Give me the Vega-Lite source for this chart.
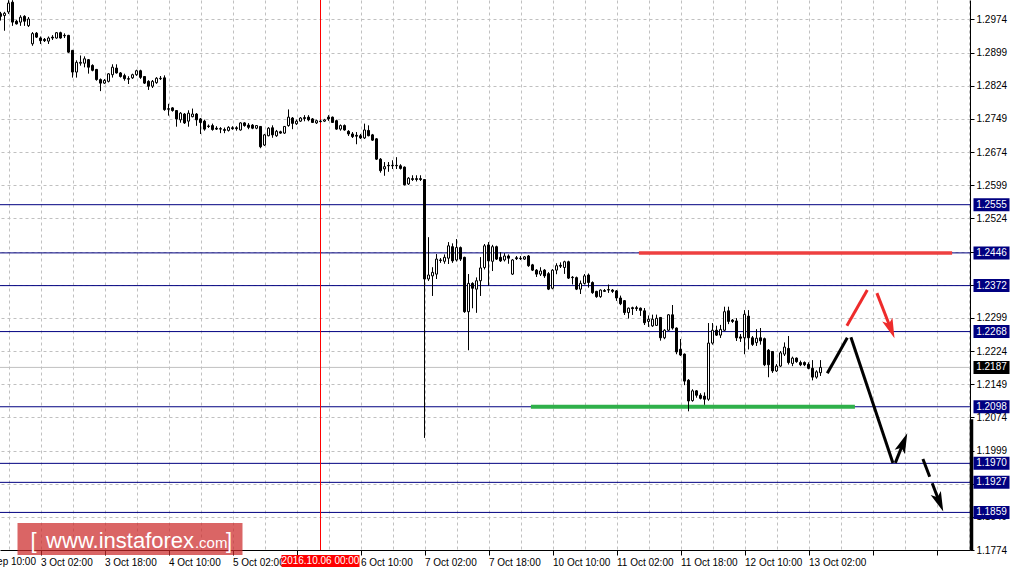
{
"$schema":"https://vega.github.io/schema/vega-lite/v6.json",
"width":970,"height":550,
"autosize":{"type":"none"},
"padding":{"left":0,"top":0,"right":42,"bottom":23},
"background":"#ffffff",
"config":{"view":{"stroke":null},"font":"Liberation Sans","axis":{"title":null}},
"datasets":{
"candles":[
{"i":-10,"o":1.2987,"h":1.2991,"l":1.2972,"c":1.2981},
{"i":-9,"o":1.2983,"h":1.2991,"l":1.2949,"c":1.2988},
{"i":-8,"o":1.2991,"h":1.3017,"l":1.2987,"c":1.3011},
{"i":-7,"o":1.3013,"h":1.3017,"l":1.2960,"c":1.2968},
{"i":-6,"o":1.2970,"h":1.2973,"l":1.2963,"c":1.2964},
{"i":-5,"o":1.2968,"h":1.2983,"l":1.2960,"c":1.2979},
{"i":-4,"o":1.2981,"h":1.2983,"l":1.2960,"c":1.2970},
{"i":-3,"o":1.2960,"h":1.2979,"l":1.2957,"c":1.2975},
{"i":-2,"o":1.2919,"h":1.2945,"l":1.2915,"c":1.2942},
{"i":-1,"o":1.2943,"h":1.2945,"l":1.2932,"c":1.2934},
{"i":0,"o":1.2932,"h":1.2935,"l":1.2919,"c":1.2926},
{"i":1,"o":1.2929,"h":1.2932,"l":1.2923,"c":1.2926},
{"i":2,"o":1.2925,"h":1.2935,"l":1.2919,"c":1.2932},
{"i":3,"o":1.2934,"h":1.2938,"l":1.2928,"c":1.2932},
{"i":4,"o":1.2932,"h":1.2945,"l":1.2931,"c":1.2944},
{"i":5,"o":1.2944,"h":1.2946,"l":1.2931,"c":1.2932},
{"i":6,"o":1.2938,"h":1.2942,"l":1.2932,"c":1.2937},
{"i":7,"o":1.2938,"h":1.2939,"l":1.2899,"c":1.2900},
{"i":8,"o":1.2904,"h":1.2905,"l":1.2843,"c":1.2855},
{"i":9,"o":1.2855,"h":1.2881,"l":1.2843,"c":1.2877},
{"i":10,"o":1.2875,"h":1.2892,"l":1.2870,"c":1.2877},
{"i":11,"o":1.2875,"h":1.2890,"l":1.2866,"c":1.2885},
{"i":12,"o":1.2883,"h":1.2884,"l":1.2852,"c":1.2866},
{"i":13,"o":1.2870,"h":1.2872,"l":1.2857,"c":1.2859},
{"i":14,"o":1.2861,"h":1.2862,"l":1.2836,"c":1.2838},
{"i":15,"o":1.2838,"h":1.2840,"l":1.2812,"c":1.2830},
{"i":16,"o":1.2830,"h":1.2839,"l":1.2828,"c":1.2836},
{"i":17,"o":1.2834,"h":1.2852,"l":1.2832,"c":1.2851},
{"i":18,"o":1.2849,"h":1.2872,"l":1.2843,"c":1.2866},
{"i":19,"o":1.2864,"h":1.2872,"l":1.2852,"c":1.2853},
{"i":20,"o":1.2853,"h":1.2855,"l":1.2843,"c":1.2845},
{"i":21,"o":1.2847,"h":1.2851,"l":1.2836,"c":1.2840},
{"i":22,"o":1.2840,"h":1.2845,"l":1.2828,"c":1.2839},
{"i":23,"o":1.2842,"h":1.2851,"l":1.2840,"c":1.2849},
{"i":24,"o":1.2849,"h":1.2860,"l":1.2847,"c":1.2858},
{"i":25,"o":1.2858,"h":1.2860,"l":1.2840,"c":1.2843},
{"i":26,"o":1.2845,"h":1.2846,"l":1.2828,"c":1.2830},
{"i":27,"o":1.2834,"h":1.2836,"l":1.2815,"c":1.2823},
{"i":28,"o":1.2823,"h":1.2837,"l":1.2819,"c":1.2834},
{"i":29,"o":1.2831,"h":1.2843,"l":1.2829,"c":1.2841},
{"i":30,"o":1.2840,"h":1.2846,"l":1.2837,"c":1.2841},
{"i":31,"o":1.2842,"h":1.2847,"l":1.2768,"c":1.2770},
{"i":32,"o":1.2772,"h":1.2783,"l":1.2757,"c":1.2771},
{"i":33,"o":1.2774,"h":1.2775,"l":1.2766,"c":1.2768},
{"i":34,"o":1.2768,"h":1.2769,"l":1.2732,"c":1.2749},
{"i":35,"o":1.2747,"h":1.2764,"l":1.2741,"c":1.2762},
{"i":36,"o":1.2760,"h":1.2762,"l":1.2738,"c":1.2740},
{"i":37,"o":1.2744,"h":1.2768,"l":1.2732,"c":1.2762},
{"i":38,"o":1.2754,"h":1.2772,"l":1.2753,"c":1.2760},
{"i":39,"o":1.2760,"h":1.2762,"l":1.2734,"c":1.2747},
{"i":40,"o":1.2749,"h":1.2751,"l":1.2715,"c":1.2741},
{"i":41,"o":1.2744,"h":1.2747,"l":1.2723,"c":1.2726},
{"i":42,"o":1.2733,"h":1.2736,"l":1.2729,"c":1.2732},
{"i":43,"o":1.2734,"h":1.2738,"l":1.2723,"c":1.2725},
{"i":44,"o":1.2728,"h":1.2732,"l":1.2724,"c":1.2726},
{"i":45,"o":1.2727,"h":1.2730,"l":1.2717,"c":1.2726},
{"i":46,"o":1.2725,"h":1.2729,"l":1.2717,"c":1.2723},
{"i":47,"o":1.2723,"h":1.2732,"l":1.2721,"c":1.2730},
{"i":48,"o":1.2729,"h":1.2732,"l":1.2725,"c":1.2727},
{"i":49,"o":1.2729,"h":1.2732,"l":1.2723,"c":1.2727},
{"i":50,"o":1.2724,"h":1.2741,"l":1.2723,"c":1.2740},
{"i":51,"o":1.2740,"h":1.2741,"l":1.2732,"c":1.2734},
{"i":52,"o":1.2735,"h":1.2739,"l":1.2726,"c":1.2730},
{"i":53,"o":1.2735,"h":1.2737,"l":1.2726,"c":1.2728},
{"i":54,"o":1.2728,"h":1.2735,"l":1.2726,"c":1.2734},
{"i":55,"o":1.2732,"h":1.2733,"l":1.2683,"c":1.2686},
{"i":56,"o":1.2690,"h":1.2715,"l":1.2688,"c":1.2713},
{"i":57,"o":1.2711,"h":1.2730,"l":1.2710,"c":1.2728},
{"i":58,"o":1.2729,"h":1.2734,"l":1.2707,"c":1.2713},
{"i":59,"o":1.2711,"h":1.2724,"l":1.2709,"c":1.2721},
{"i":60,"o":1.2720,"h":1.2722,"l":1.2716,"c":1.2717},
{"i":61,"o":1.2717,"h":1.2733,"l":1.2715,"c":1.2732},
{"i":62,"o":1.2734,"h":1.2770,"l":1.2732,"c":1.2753},
{"i":63,"o":1.2751,"h":1.2753,"l":1.2726,"c":1.2739},
{"i":64,"o":1.2738,"h":1.2747,"l":1.2736,"c":1.2744},
{"i":65,"o":1.2744,"h":1.2753,"l":1.2742,"c":1.2751},
{"i":66,"o":1.2752,"h":1.2757,"l":1.2744,"c":1.2750},
{"i":67,"o":1.2753,"h":1.2757,"l":1.2744,"c":1.2747},
{"i":68,"o":1.2749,"h":1.2751,"l":1.2740,"c":1.2741},
{"i":69,"o":1.2740,"h":1.2747,"l":1.2738,"c":1.2745},
{"i":70,"o":1.2744,"h":1.2747,"l":1.2741,"c":1.2743},
{"i":71,"o":1.2744,"h":1.2749,"l":1.2742,"c":1.2747},
{"i":72,"o":1.2753,"h":1.2757,"l":1.2745,"c":1.2749},
{"i":73,"o":1.2753,"h":1.2754,"l":1.2740,"c":1.2741},
{"i":74,"o":1.2745,"h":1.2747,"l":1.2725,"c":1.2726},
{"i":75,"o":1.2726,"h":1.2736,"l":1.2723,"c":1.2734},
{"i":76,"o":1.2734,"h":1.2736,"l":1.2723,"c":1.2724},
{"i":77,"o":1.2721,"h":1.2723,"l":1.2711,"c":1.2715},
{"i":78,"o":1.2715,"h":1.2719,"l":1.2706,"c":1.2709},
{"i":79,"o":1.2712,"h":1.2719,"l":1.2692,"c":1.2710},
{"i":80,"o":1.2711,"h":1.2715,"l":1.2704,"c":1.2706},
{"i":81,"o":1.2706,"h":1.2738,"l":1.2704,"c":1.2724},
{"i":82,"o":1.2723,"h":1.2734,"l":1.2710,"c":1.2711},
{"i":83,"o":1.2713,"h":1.2715,"l":1.2700,"c":1.2701},
{"i":84,"o":1.2704,"h":1.2705,"l":1.2657,"c":1.2658},
{"i":85,"o":1.2658,"h":1.2660,"l":1.2628,"c":1.2632},
{"i":86,"o":1.2636,"h":1.2651,"l":1.2621,"c":1.2641},
{"i":87,"o":1.2644,"h":1.2651,"l":1.2630,"c":1.2643},
{"i":88,"o":1.2644,"h":1.2655,"l":1.2636,"c":1.2643},
{"i":89,"o":1.2644,"h":1.2662,"l":1.2636,"c":1.2643},
{"i":90,"o":1.2643,"h":1.2646,"l":1.2635,"c":1.2637},
{"i":91,"o":1.2640,"h":1.2641,"l":1.2599,"c":1.2600},
{"i":92,"o":1.2602,"h":1.2617,"l":1.2600,"c":1.2615},
{"i":93,"o":1.2614,"h":1.2621,"l":1.2609,"c":1.2612},
{"i":94,"o":1.2614,"h":1.2621,"l":1.2608,"c":1.2612},
{"i":95,"o":1.2614,"h":1.2621,"l":1.2609,"c":1.2612},
{"i":96,"o":1.2612,"h":1.2613,"l":1.2028,"c":1.2387},
{"i":97,"o":1.2387,"h":1.2481,"l":1.2383,"c":1.2396},
{"i":98,"o":1.2394,"h":1.2413,"l":1.2349,"c":1.2402},
{"i":99,"o":1.2398,"h":1.2443,"l":1.2387,"c":1.2432},
{"i":100,"o":1.2430,"h":1.2434,"l":1.2424,"c":1.2429},
{"i":101,"o":1.2427,"h":1.2442,"l":1.2422,"c":1.2436},
{"i":102,"o":1.2434,"h":1.2470,"l":1.2421,"c":1.2462},
{"i":103,"o":1.2460,"h":1.2467,"l":1.2424,"c":1.2428},
{"i":104,"o":1.2430,"h":1.2477,"l":1.2427,"c":1.2458},
{"i":105,"o":1.2458,"h":1.2460,"l":1.2428,"c":1.2432},
{"i":106,"o":1.2436,"h":1.2437,"l":1.2311,"c":1.2313},
{"i":107,"o":1.2313,"h":1.2398,"l":1.2226,"c":1.2377},
{"i":108,"o":1.2377,"h":1.2379,"l":1.2321,"c":1.2366},
{"i":109,"o":1.2364,"h":1.2390,"l":1.2311,"c":1.2383},
{"i":110,"o":1.2383,"h":1.2436,"l":1.2349,"c":1.2412},
{"i":111,"o":1.2413,"h":1.2466,"l":1.2409,"c":1.2462},
{"i":112,"o":1.2464,"h":1.2470,"l":1.2372,"c":1.2428},
{"i":113,"o":1.2427,"h":1.2464,"l":1.2405,"c":1.2460},
{"i":114,"o":1.2460,"h":1.2462,"l":1.2430,"c":1.2432},
{"i":115,"o":1.2436,"h":1.2447,"l":1.2426,"c":1.2428},
{"i":116,"o":1.2430,"h":1.2445,"l":1.2427,"c":1.2439},
{"i":117,"o":1.2439,"h":1.2442,"l":1.2422,"c":1.2434},
{"i":118,"o":1.2398,"h":1.2432,"l":1.2396,"c":1.2430},
{"i":119,"o":1.2435,"h":1.2439,"l":1.2430,"c":1.2433},
{"i":120,"o":1.2434,"h":1.2439,"l":1.2430,"c":1.2433},
{"i":121,"o":1.2432,"h":1.2439,"l":1.2430,"c":1.2437},
{"i":122,"o":1.2439,"h":1.2441,"l":1.2415,"c":1.2417},
{"i":123,"o":1.2419,"h":1.2421,"l":1.2405,"c":1.2407},
{"i":124,"o":1.2407,"h":1.2409,"l":1.2392,"c":1.2398},
{"i":125,"o":1.2398,"h":1.2413,"l":1.2394,"c":1.2405},
{"i":126,"o":1.2407,"h":1.2409,"l":1.2390,"c":1.2394},
{"i":127,"o":1.2399,"h":1.2402,"l":1.2362,"c":1.2364},
{"i":128,"o":1.2366,"h":1.2409,"l":1.2364,"c":1.2407},
{"i":129,"o":1.2407,"h":1.2422,"l":1.2398,"c":1.2417},
{"i":130,"o":1.2418,"h":1.2424,"l":1.2412,"c":1.2416},
{"i":131,"o":1.2413,"h":1.2428,"l":1.2399,"c":1.2426},
{"i":132,"o":1.2426,"h":1.2428,"l":1.2387,"c":1.2389},
{"i":133,"o":1.2391,"h":1.2393,"l":1.2375,"c":1.2390},
{"i":134,"o":1.2390,"h":1.2392,"l":1.2362,"c":1.2364},
{"i":135,"o":1.2364,"h":1.2383,"l":1.2353,"c":1.2377},
{"i":136,"o":1.2377,"h":1.2398,"l":1.2375,"c":1.2394},
{"i":137,"o":1.2396,"h":1.2399,"l":1.2368,"c":1.2379},
{"i":138,"o":1.2379,"h":1.2381,"l":1.2354,"c":1.2356},
{"i":139,"o":1.2359,"h":1.2360,"l":1.2345,"c":1.2347},
{"i":140,"o":1.2347,"h":1.2363,"l":1.2345,"c":1.2362},
{"i":141,"o":1.2361,"h":1.2364,"l":1.2358,"c":1.2359},
{"i":142,"o":1.2363,"h":1.2374,"l":1.2356,"c":1.2362},
{"i":143,"o":1.2362,"h":1.2364,"l":1.2356,"c":1.2359},
{"i":144,"o":1.2360,"h":1.2362,"l":1.2338,"c":1.2344},
{"i":145,"o":1.2344,"h":1.2349,"l":1.2328,"c":1.2331},
{"i":146,"o":1.2338,"h":1.2339,"l":1.2306,"c":1.2311},
{"i":147,"o":1.2311,"h":1.2322,"l":1.2298,"c":1.2321},
{"i":148,"o":1.2322,"h":1.2324,"l":1.2306,"c":1.2320},
{"i":149,"o":1.2322,"h":1.2326,"l":1.2315,"c":1.2320},
{"i":150,"o":1.2321,"h":1.2322,"l":1.2304,"c":1.2316},
{"i":151,"o":1.2315,"h":1.2321,"l":1.2283,"c":1.2288},
{"i":152,"o":1.2291,"h":1.2304,"l":1.2279,"c":1.2296},
{"i":153,"o":1.2281,"h":1.2306,"l":1.2279,"c":1.2296},
{"i":154,"o":1.2282,"h":1.2306,"l":1.2281,"c":1.2298},
{"i":155,"o":1.2300,"h":1.2301,"l":1.2248,"c":1.2254},
{"i":156,"o":1.2254,"h":1.2273,"l":1.2251,"c":1.2271},
{"i":157,"o":1.2271,"h":1.2307,"l":1.2270,"c":1.2306},
{"i":158,"o":1.2306,"h":1.2328,"l":1.2273,"c":1.2276},
{"i":159,"o":1.2276,"h":1.2277,"l":1.2217,"c":1.2222},
{"i":160,"o":1.2228,"h":1.2251,"l":1.2213,"c":1.2215},
{"i":161,"o":1.2217,"h":1.2218,"l":1.2147,"c":1.2156},
{"i":162,"o":1.2158,"h":1.2160,"l":1.2088,"c":1.2111},
{"i":163,"o":1.2112,"h":1.2137,"l":1.2110,"c":1.2134},
{"i":164,"o":1.2134,"h":1.2135,"l":1.2119,"c":1.2124},
{"i":165,"o":1.2124,"h":1.2128,"l":1.2115,"c":1.2117},
{"i":166,"o":1.2122,"h":1.2130,"l":1.2103,"c":1.2115},
{"i":167,"o":1.2115,"h":1.2287,"l":1.2112,"c":1.2242},
{"i":168,"o":1.2242,"h":1.2287,"l":1.2239,"c":1.2271},
{"i":169,"o":1.2271,"h":1.2281,"l":1.2258,"c":1.2260},
{"i":170,"o":1.2260,"h":1.2283,"l":1.2254,"c":1.2273},
{"i":171,"o":1.2271,"h":1.2324,"l":1.2270,"c":1.2313},
{"i":172,"o":1.2315,"h":1.2324,"l":1.2285,"c":1.2291},
{"i":173,"o":1.2294,"h":1.2296,"l":1.2288,"c":1.2291},
{"i":174,"o":1.2292,"h":1.2298,"l":1.2247,"c":1.2254},
{"i":175,"o":1.2256,"h":1.2262,"l":1.2245,"c":1.2253},
{"i":176,"o":1.2254,"h":1.2316,"l":1.2217,"c":1.2307},
{"i":177,"o":1.2303,"h":1.2316,"l":1.2228,"c":1.2254},
{"i":178,"o":1.2254,"h":1.2258,"l":1.2236,"c":1.2239},
{"i":179,"o":1.2243,"h":1.2273,"l":1.2236,"c":1.2253},
{"i":180,"o":1.2254,"h":1.2276,"l":1.2239,"c":1.2247},
{"i":181,"o":1.2252,"h":1.2254,"l":1.2190,"c":1.2193},
{"i":182,"o":1.2226,"h":1.2228,"l":1.2165,"c":1.2193},
{"i":183,"o":1.2223,"h":1.2224,"l":1.2175,"c":1.2179},
{"i":184,"o":1.2179,"h":1.2194,"l":1.2177,"c":1.2190},
{"i":185,"o":1.2190,"h":1.2224,"l":1.2188,"c":1.2220},
{"i":186,"o":1.2217,"h":1.2243,"l":1.2213,"c":1.2233},
{"i":187,"o":1.2230,"h":1.2258,"l":1.2194,"c":1.2198},
{"i":188,"o":1.2196,"h":1.2211,"l":1.2190,"c":1.2208},
{"i":189,"o":1.2208,"h":1.2209,"l":1.2198,"c":1.2200},
{"i":190,"o":1.2198,"h":1.2202,"l":1.2190,"c":1.2193},
{"i":191,"o":1.2198,"h":1.2200,"l":1.2190,"c":1.2193},
{"i":192,"o":1.2194,"h":1.2198,"l":1.2183,"c":1.2185},
{"i":193,"o":1.2185,"h":1.2203,"l":1.2158,"c":1.2165},
{"i":194,"o":1.2165,"h":1.2180,"l":1.2162,"c":1.2177},
{"i":195,"o":1.2175,"h":1.2203,"l":1.2168,"c":1.2187}
],
"levels":[{"p":1.2555},{"p":1.2446},{"p":1.2372},{"p":1.2268},{"p":1.2098},{"p":1.1970},{"p":1.1927},{"p":1.1859}],
"bid":[{"p":1.2187}],
"segSolid":[{"s":"a","i":196.7,"p":1.2174},{"s":"a","i":201.7,"p":1.2254},{"s":"b","i":202.6,"p":1.2255},{"s":"b","i":213.1,"p":1.1971},{"s":"c","i":213.7,"p":1.1971},{"s":"c","i":215.75,"p":1.2017}],
"segDash":[{"s":"d","i":220.6,"p":1.1980},{"s":"d","i":224.75,"p":1.1882}],
"segRed":[{"s":"e","i":201.6,"p":1.2281},{"s":"e","i":206.7,"p":1.2362},{"s":"f","i":209.1,"p":1.2355},{"s":"f","i":212.6,"p":1.2274}]
},
"layer":[
{"data":{"name":"candles"},"mark":{"type":"rule","color":"#000000","strokeWidth":1},
 "encoding":{
  "x":{"field":"i","type":"quantitative","scale":{"domain":[-10.125,232.375],"nice":false,"zero":false,"padding":0},
   "axis":{"orient":"bottom","title":null,"tickCount":200,
    "values":[-8,0,8,16,24,32,40,48,56,64,72,80,88,96,104,112,120,128,136,144,152,160,168,176,184,192,200,208,216,224,232],
    "grid":true,"gridColor":"#c0c0c0","gridDash":[3,3],"gridWidth":1,
    "domain":true,"domainColor":"#000000","domainWidth":1,
    "ticks":true,"tickColor":"#000000","tickSize":5,"tickOpacity":{"condition":{"test":"datum.value % 16 !== 0","value":0},"value":1},
    "labelExpr":"(datum.value % 16 === 0 && datum.value <= 192) ? ['30 Sep 10:00','3 Oct 02:00','3 Oct 18:00','4 Oct 10:00','5 Oct 02:00','','6 Oct 10:00','7 Oct 02:00','7 Oct 18:00','10 Oct 10:00','11 Oct 02:00','11 Oct 18:00','12 Oct 10:00','13 Oct 02:00'][(datum.value + 16) / 16] : ''",
    "labelAlign":"left","labelBaseline":"top","labelPadding":2,"labelFont":"Liberation Sans","labelFontSize":10,"labelColor":"#000000",
    "labelOverlap":false,"labelFlush":false,"labelBound":false}},
  "y":{"field":"l","type":"quantitative","scale":{"domain":[1.1774,1.3018],"nice":false,"zero":false},
   "axis":{"orient":"right","title":null,"tickCount":200,
    "values":[1.1774,1.1849,1.1924,1.1999,1.2074,1.2149,1.2224,1.2299,1.2374,1.2449,1.2524,1.2599,1.2674,1.2749,1.2824,1.2899,1.2974],
    "grid":true,"gridColor":"#c0c0c0","gridDash":[3,3],"gridWidth":1,
    "domain":true,"domainColor":"#000000","domainWidth":1,
    "ticks":true,"tickColor":"#000000","tickSize":4,
    "format":".4f","labelAlign":"left","labelBaseline":"middle","labelPadding":2,"labelFont":"Liberation Sans","labelFontSize":10,"labelColor":"#000000",
    "labelOverlap":false,"labelFlush":false,"labelBound":false}},
  "y2":{"field":"h"}}},
{"data":{"name":"levels"},"mark":{"type":"rule","color":"#000080","strokeWidth":1},
 "encoding":{"y":{"field":"p","type":"quantitative","scale":{"domain":[1.1774,1.3018],"nice":false,"zero":false}}}},
{"data":{"name":"bid"},"mark":{"type":"rule","color":"#c0c0c0","strokeWidth":1},
 "encoding":{"y":{"field":"p","type":"quantitative","scale":{"domain":[1.1774,1.3018],"nice":false,"zero":false}}}},
{"data":{"values":[{"i":70}]},"mark":{"type":"rule","color":"#ff0000","strokeWidth":1},
 "encoding":{"x":{"field":"i","type":"quantitative","scale":{"domain":[-10.125,232.375],"nice":false,"zero":false,"padding":0}}}},
{"data":{"values":[{"i":122.6,"i2":203.6,"p":1.2098}]},"mark":{"type":"rule","color":"#2fb04a","strokeWidth":4},
 "encoding":{"x":{"field":"i","type":"quantitative","scale":{"domain":[-10.125,232.375],"nice":false,"zero":false,"padding":0}},"x2":{"field":"i2"},
  "y":{"field":"p","type":"quantitative","scale":{"domain":[1.1774,1.3018],"nice":false,"zero":false}}}},
{"data":{"values":[{"i":149.6,"i2":227.9,"p":1.2446}]},"mark":{"type":"rule","color":"#ee4040","strokeWidth":3.5},
 "encoding":{"x":{"field":"i","type":"quantitative","scale":{"domain":[-10.125,232.375],"nice":false,"zero":false,"padding":0}},"x2":{"field":"i2"},
  "y":{"field":"p","type":"quantitative","scale":{"domain":[1.1774,1.3018],"nice":false,"zero":false}}}},
{"data":{"name":"candles"},"mark":{"type":"rule","color":"#000000","strokeWidth":1},
 "encoding":{
  "x":{"field":"i","type":"quantitative","scale":{"domain":[-10.125,232.375],"nice":false,"zero":false,"padding":0}},
  "y":{"field":"l","type":"quantitative","scale":{"domain":[1.1774,1.3018],"nice":false,"zero":false}},
  "y2":{"field":"h"}}},
{"data":{"name":"candles"},"mark":{"type":"bar","width":2,"stroke":"#000000","strokeWidth":1},
 "encoding":{
  "x":{"field":"i","type":"quantitative","scale":{"domain":[-10.125,232.375],"nice":false,"zero":false,"padding":0}},
  "y":{"field":"o","type":"quantitative","scale":{"domain":[1.1774,1.3018],"nice":false,"zero":false}},
  "y2":{"field":"c"},
  "fill":{"condition":{"test":"datum.c >= datum.o","value":"#ffffff"},"value":"#000000"}}},
{"data":{"name":"segSolid"},"mark":{"type":"line","color":"#000000","strokeWidth":3,"strokeCap":"butt"},
 "encoding":{
  "x":{"field":"i","type":"quantitative","scale":{"domain":[-10.125,232.375],"nice":false,"zero":false,"padding":0}},
  "y":{"field":"p","type":"quantitative","scale":{"domain":[1.1774,1.3018],"nice":false,"zero":false}},
  "detail":{"field":"s"}}},
{"data":{"name":"segDash"},"mark":{"type":"line","color":"#000000","strokeWidth":3,"strokeCap":"butt","strokeDash":[19,7]},
 "encoding":{
  "x":{"field":"i","type":"quantitative","scale":{"domain":[-10.125,232.375],"nice":false,"zero":false,"padding":0}},
  "y":{"field":"p","type":"quantitative","scale":{"domain":[1.1774,1.3018],"nice":false,"zero":false}},
  "detail":{"field":"s"}}},
{"data":{"name":"segRed"},"mark":{"type":"line","color":"#ee2b2b","strokeWidth":3,"strokeCap":"butt"},
 "encoding":{
  "x":{"field":"i","type":"quantitative","scale":{"domain":[-10.125,232.375],"nice":false,"zero":false,"padding":0}},
  "y":{"field":"p","type":"quantitative","scale":{"domain":[1.1774,1.3018],"nice":false,"zero":false}},
  "detail":{"field":"s"}}},
{"data":{"values":[{"i":215.75,"p":1.2017}]},"mark":{"type":"point","shape":"M0,-1L0.55,1L0,0.55L-0.55,1Z","size":400,"angle":22,"filled":true,"color":"#000000","opacity":1},
 "encoding":{
  "x":{"field":"i","type":"quantitative","scale":{"domain":[-10.125,232.375],"nice":false,"zero":false,"padding":0}},
  "y":{"field":"p","type":"quantitative","scale":{"domain":[1.1774,1.3018],"nice":false,"zero":false}}}},
{"data":{"values":[{"i":224.75,"p":1.1882}]},"mark":{"type":"point","shape":"M0,-1L0.55,1L0,0.55L-0.55,1Z","size":400,"angle":158,"filled":true,"color":"#000000","opacity":1},
 "encoding":{
  "x":{"field":"i","type":"quantitative","scale":{"domain":[-10.125,232.375],"nice":false,"zero":false,"padding":0}},
  "y":{"field":"p","type":"quantitative","scale":{"domain":[1.1774,1.3018],"nice":false,"zero":false}}}},
{"data":{"values":[{"i":212.6,"p":1.2274}]},"mark":{"type":"point","shape":"M0,-1L0.55,1L0,0.55L-0.55,1Z","size":400,"angle":159,"filled":true,"color":"#ee2b2b","opacity":1},
 "encoding":{
  "x":{"field":"i","type":"quantitative","scale":{"domain":[-10.125,232.375],"nice":false,"zero":false,"padding":0}},
  "y":{"field":"p","type":"quantitative","scale":{"domain":[1.1774,1.3018],"nice":false,"zero":false}}}},
{"data":{"values":[{"p1":1.2070,"p2":1.1774}]},"mark":{"type":"rule","color":"#000000","strokeWidth":3.5,"strokeCap":"butt"},
 "encoding":{
  "x":{"datum":232.75,"type":"quantitative","scale":{"domain":[-10.125,232.375],"nice":false,"zero":false,"padding":0}},
  "y":{"field":"p1","type":"quantitative","scale":{"domain":[1.1774,1.3018],"nice":false,"zero":false}},
  "y2":{"field":"p2"}}},
{"data":{"name":"levels"},"mark":{"type":"rule","color":"#000080","strokeWidth":13,"strokeCap":"butt"},
 "encoding":{
  "x":{"datum":233.25,"type":"quantitative","scale":{"domain":[-10.125,232.375],"nice":false,"zero":false,"padding":0}},
  "x2":{"datum":242.25},
  "y":{"field":"p","type":"quantitative","scale":{"domain":[1.1774,1.3018],"nice":false,"zero":false}}}},
{"data":{"name":"bid"},"mark":{"type":"rule","color":"#000000","strokeWidth":13,"strokeCap":"butt"},
 "encoding":{
  "x":{"datum":233.25,"type":"quantitative","scale":{"domain":[-10.125,232.375],"nice":false,"zero":false,"padding":0}},
  "x2":{"datum":242.25},
  "y":{"field":"p","type":"quantitative","scale":{"domain":[1.1774,1.3018],"nice":false,"zero":false}}}},
{"data":{"name":"levels"},"mark":{"type":"text","color":"#ffffff","font":"Liberation Sans","fontSize":10,"align":"center","baseline":"middle"},
 "encoding":{
  "x":{"datum":237.75,"type":"quantitative","scale":{"domain":[-10.125,232.375],"nice":false,"zero":false,"padding":0}},
  "y":{"field":"p","type":"quantitative","scale":{"domain":[1.1774,1.3018],"nice":false,"zero":false}},
  "text":{"field":"p","type":"quantitative","format":".4f"}}},
{"data":{"name":"bid"},"mark":{"type":"text","color":"#ffffff","font":"Liberation Sans","fontSize":10,"align":"center","baseline":"middle"},
 "encoding":{
  "x":{"datum":237.75,"type":"quantitative","scale":{"domain":[-10.125,232.375],"nice":false,"zero":false,"padding":0}},
  "y":{"field":"p","type":"quantitative","scale":{"domain":[1.1774,1.3018],"nice":false,"zero":false}},
  "text":{"field":"p","type":"quantitative","format":".4f"}}},
{"data":{"values":[{"i":-16,"p":1.17581,"t":"30 Sep 10:00"}]},"mark":{"type":"text","color":"#000000","font":"Liberation Sans","fontSize":10,"align":"left","baseline":"top"},
 "encoding":{
  "x":{"field":"i","type":"quantitative","scale":{"domain":[-10.125,232.375],"nice":false,"zero":false,"padding":0}},
  "y":{"field":"p","type":"quantitative","scale":{"domain":[1.1774,1.3018],"nice":false,"zero":false}},
  "text":{"field":"t"}}},
{"data":{"values":[{"i":60.25,"i2":79.75,"p":1.1749}]},"mark":{"type":"rule","color":"#ff0000","strokeWidth":12,"strokeCap":"butt"},
 "encoding":{
  "x":{"field":"i","type":"quantitative","scale":{"domain":[-10.125,232.375],"nice":false,"zero":false,"padding":0}},"x2":{"field":"i2"},
  "y":{"field":"p","type":"quantitative","scale":{"domain":[1.1774,1.3018],"nice":false,"zero":false}}}},
{"data":{"values":[{"i":70,"p":1.1749,"t":"2016.10.06 00:00"}]},"mark":{"type":"text","color":"#ffffff","font":"Liberation Sans","fontSize":10,"align":"center","baseline":"middle"},
 "encoding":{
  "x":{"field":"i","type":"quantitative","scale":{"domain":[-10.125,232.375],"nice":false,"zero":false,"padding":0}},
  "y":{"field":"p","type":"quantitative","scale":{"domain":[1.1774,1.3018],"nice":false,"zero":false}},
  "text":{"field":"t"}}},
{"data":{"values":[{"i":-5.75,"i2":50.5,"p":1.17988}]},"mark":{"type":"rule","color":"#cc2a2a","opacity":0.72,"strokeWidth":32,"strokeCap":"butt"},
 "encoding":{
  "x":{"field":"i","type":"quantitative","scale":{"domain":[-10.125,232.375],"nice":false,"zero":false,"padding":0}},"x2":{"field":"i2"},
  "y":{"field":"p","type":"quantitative","scale":{"domain":[1.1774,1.3018],"nice":false,"zero":false}}}},
{"data":{"values":[{"i":-2.5,"p":1.17943,"t":"["},{"i":46.4,"p":1.17943,"t":"]"}]},"mark":{"type":"text","color":"#ffffff","font":"Liberation Sans","fontSize":22,"align":"left","baseline":"middle"},
 "encoding":{
  "x":{"field":"i","type":"quantitative","scale":{"domain":[-10.125,232.375],"nice":false,"zero":false,"padding":0}},
  "y":{"field":"p","type":"quantitative","scale":{"domain":[1.1774,1.3018],"nice":false,"zero":false}},
  "text":{"field":"t"}}},
{"data":{"values":[{"i":1.4,"p":1.17785,"t":"www.instaforex"}]},"mark":{"type":"text","color":"#ffffff","font":"Liberation Sans","fontSize":22,"align":"left","baseline":"alphabetic"},
 "encoding":{
  "x":{"field":"i","type":"quantitative","scale":{"domain":[-10.125,232.375],"nice":false,"zero":false,"padding":0}},
  "y":{"field":"p","type":"quantitative","scale":{"domain":[1.1774,1.3018],"nice":false,"zero":false}},
  "text":{"field":"t"}}},
{"data":{"values":[{"i":38.6,"p":1.17785,"t":".com"}]},"mark":{"type":"text","color":"#ffffff","font":"Liberation Sans","fontSize":15,"align":"left","baseline":"alphabetic"},
 "encoding":{
  "x":{"field":"i","type":"quantitative","scale":{"domain":[-10.125,232.375],"nice":false,"zero":false,"padding":0}},
  "y":{"field":"p","type":"quantitative","scale":{"domain":[1.1774,1.3018],"nice":false,"zero":false}},
  "text":{"field":"t"}}}
]
}
